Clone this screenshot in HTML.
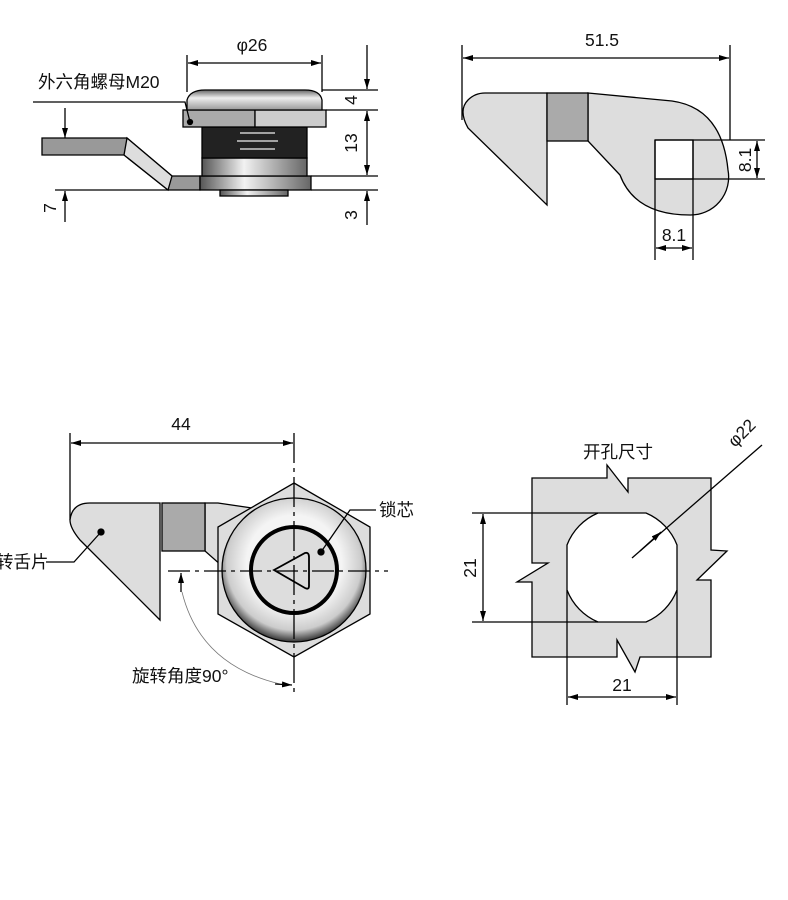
<!DOCTYPE html>
<html><head><meta charset="utf-8"><style>
html,body{margin:0;padding:0;background:#fff;}
svg{display:block;}
text{font-family:"Liberation Sans","Noto Sans CJK SC",sans-serif;fill:#111;}
</style></head><body>
<svg width="788" height="900" viewBox="0 0 788 900" xmlns="http://www.w3.org/2000/svg">
<defs>
<marker id="a" viewBox="0 0 10 6" refX="10" refY="3" markerWidth="10" markerHeight="6" orient="auto-start-reverse" markerUnits="userSpaceOnUse"><path d="M0,0L10,3L0,6z" fill="#000"/></marker>
<linearGradient id="dome" x1="0" y1="0" x2="0" y2="1"><stop offset="0" stop-color="#666"/><stop offset="0.4" stop-color="#eee"/><stop offset="1" stop-color="#999"/></linearGradient>
<linearGradient id="cyl" x1="0" y1="0" x2="1" y2="0"><stop offset="0" stop-color="#555"/><stop offset="0.4" stop-color="#f2f2f2"/><stop offset="1" stop-color="#666"/></linearGradient>
<radialGradient id="ring" cx="0.5" cy="0.45" r="0.55"><stop offset="0.6" stop-color="#f4f4f4"/><stop offset="0.85" stop-color="#ccc"/><stop offset="1" stop-color="#333"/></radialGradient>
</defs>
<g stroke="#000" stroke-width="1.3" fill="none">
<line x1="187" y1="55" x2="187" y2="92"/><line x1="322" y1="55" x2="322" y2="92"/>
<line x1="188" y1="63" x2="321" y2="63" marker-start="url(#a)" marker-end="url(#a)"/>
<path d="M42,138 L127,138 L172,176 L200,176 L200,190 L168,190 L124,155 L42,155 Z" fill="#999"/>
<path d="M127,138 L172,176 L168,190 L124,155 Z" fill="#ddd"/>
<rect x="200" y="176" width="111" height="14" fill="url(#cyl)"/>
<rect x="220" y="190" width="68" height="6" fill="url(#cyl)"/>
<rect x="202" y="158" width="105" height="18" fill="url(#cyl)"/>
<rect x="202" y="127" width="105" height="31" fill="#222"/>
<g stroke="#ccc" stroke-width="1.5"><line x1="240" y1="133" x2="275" y2="133"/><line x1="237" y1="141" x2="278" y2="141"/><line x1="240" y1="149" x2="275" y2="149"/></g>
<rect x="183" y="110" width="72" height="17" fill="#aaa"/><rect x="255" y="110" width="71" height="17" fill="#ccc"/>
<path d="M187,110 L187,100 Q190,90 205,90 L305,90 Q320,90 322,100 L322,110 Z" fill="url(#dome)"/>
<path d="M33,102 L185,102 L190,122"/><circle cx="190" cy="122" r="2.5" fill="#000"/>
<line x1="322" y1="90" x2="378" y2="90"/><line x1="326" y1="110" x2="378" y2="110"/>
<line x1="311" y1="176" x2="378" y2="176"/><line x1="311" y1="190" x2="378" y2="190"/>
<line x1="367" y1="45" x2="367" y2="89" marker-end="url(#a)"/>
<line x1="367" y1="111" x2="367" y2="175" marker-start="url(#a)" marker-end="url(#a)"/>
<line x1="367" y1="225" x2="367" y2="191" marker-end="url(#a)"/>
<line x1="55" y1="190" x2="168" y2="190"/>
<line x1="65" y1="108" x2="65" y2="138" marker-end="url(#a)"/>
<line x1="65" y1="222" x2="65" y2="191" marker-end="url(#a)"/>

<line x1="462" y1="45" x2="462" y2="120"/><line x1="730" y1="45" x2="730" y2="140"/>
<line x1="463" y1="58" x2="729" y2="58" marker-start="url(#a)" marker-end="url(#a)"/>
<path d="M485,93 L547,93 L547,205 L468,128 Q458,110 468,100 Q475,93 485,93 Z" fill="#ddd"/>
<path d="M588,93 L672,101 Q722,108 728,170 A38,38 0 0 1 690,215 Q635,215 620,175 L588,141 Z" fill="#ddd"/>
<rect x="547" y="93" width="41" height="48" fill="#aaa"/>
<rect x="655" y="140" width="38" height="39" fill="#fff"/>
<line x1="655" y1="140" x2="655" y2="260"/><line x1="693" y1="140" x2="693" y2="260"/>
<line x1="655" y1="140" x2="765" y2="140"/><line x1="655" y1="179" x2="765" y2="179"/>
<line x1="757" y1="141" x2="757" y2="178" marker-start="url(#a)" marker-end="url(#a)"/>
<line x1="656" y1="248" x2="692" y2="248" marker-start="url(#a)" marker-end="url(#a)"/>

<line x1="70" y1="433" x2="70" y2="520"/>
<line x1="71" y1="443" x2="293" y2="443" marker-start="url(#a)" marker-end="url(#a)"/>
<path d="M90,503 L160,503 L160,620 L80,540 Q70,528 70,520 Q72,503 90,503 Z" fill="#ddd"/>
<path d="M205,503 L218,503 L252,508 L222,566 L205,551 Z" fill="#ddd"/>
<rect x="162" y="503" width="43" height="48" fill="#aaa"/>
<polygon points="294,483 370,527 370,614 294,657 218,614 218,527" fill="#ddd"/>
<circle cx="294" cy="570" r="72" fill="url(#ring)"/>
<circle cx="294" cy="570" r="43" fill="#ddd" stroke-width="4"/>
<path d="M274,570 L305,553 Q309,552 309,557 L309,586 Q309,590 305,588 Z" stroke-width="1.8"/>
<line x1="168" y1="571" x2="388" y2="571" stroke-dasharray="22,5,4,5"/>
<line x1="294" y1="433" x2="294" y2="697" stroke-dasharray="30,5,4,5"/>
<circle cx="321" cy="552" r="3" fill="#000"/><path d="M321,552 L350,510 L376,510"/>
<circle cx="101" cy="532" r="3" fill="#000"/><path d="M101,532 L74,562 L46,562"/>
<line x1="181" y1="592" x2="181" y2="573" marker-end="url(#a)"/>
<path d="M182,592 Q200,665 280,684" stroke="#777" stroke-width="0.8"/>
<line x1="275" y1="684" x2="292" y2="685" marker-end="url(#a)"/>

<path d="M532,478 L607,478 L607,465 L628,492 L628,478 L711,478 L711,550 L727,551 L697,580 L711,580 L711,657 L640,657 L635,672 L617,640 L617,657 L532,657 L532,582 L517,582 L548,563 L532,563 Z" fill="#ddd"/>
<path d="M598,513 L646,513 A57,57 0 0 1 677,545 L677,590 A57,57 0 0 1 646,622 L598,622 A57,57 0 0 1 567,590 L567,545 A57,57 0 0 1 598,513 Z" fill="#fff"/>
<line x1="472" y1="513" x2="598" y2="513"/><line x1="472" y1="622" x2="598" y2="622"/>
<line x1="483" y1="514" x2="483" y2="621" marker-start="url(#a)" marker-end="url(#a)"/>
<line x1="567" y1="590" x2="567" y2="705"/><line x1="677" y1="590" x2="677" y2="705"/>
<line x1="568" y1="697" x2="676" y2="697" marker-start="url(#a)" marker-end="url(#a)"/>
<line x1="762" y1="445" x2="632" y2="558"/>
<line x1="640" y1="551" x2="661" y2="532" marker-end="url(#a)"/>
</g>
<g font-size="17.5">
<text x="252" y="51" text-anchor="middle">φ26</text>
<text x="38" y="88">外六角螺母M20</text>
<text transform="translate(357,100) rotate(-90)" text-anchor="middle">4</text>
<text transform="translate(357,143) rotate(-90)" text-anchor="middle">13</text>
<text transform="translate(357,215) rotate(-90)" text-anchor="middle">3</text>
<text transform="translate(56,208) rotate(-90)" text-anchor="middle">7</text>
<text x="602" y="46" text-anchor="middle">51.5</text>
<text transform="translate(751,160) rotate(-90)" text-anchor="middle">8.1</text>
<text x="674" y="241" text-anchor="middle">8.1</text>
<text x="181" y="430" text-anchor="middle">44</text>
<text x="379" y="516">锁芯</text>
<text x="-4" y="568">转舌片</text>
<text x="132" y="682">旋转角度90°</text>
<text x="583" y="458">开孔尺寸</text>
<text transform="translate(735,448) rotate(-45)">φ22</text>
<text transform="translate(476,568) rotate(-90)" text-anchor="middle">21</text>
<text x="622" y="691" text-anchor="middle">21</text>
</g>
</svg>
</body></html>
